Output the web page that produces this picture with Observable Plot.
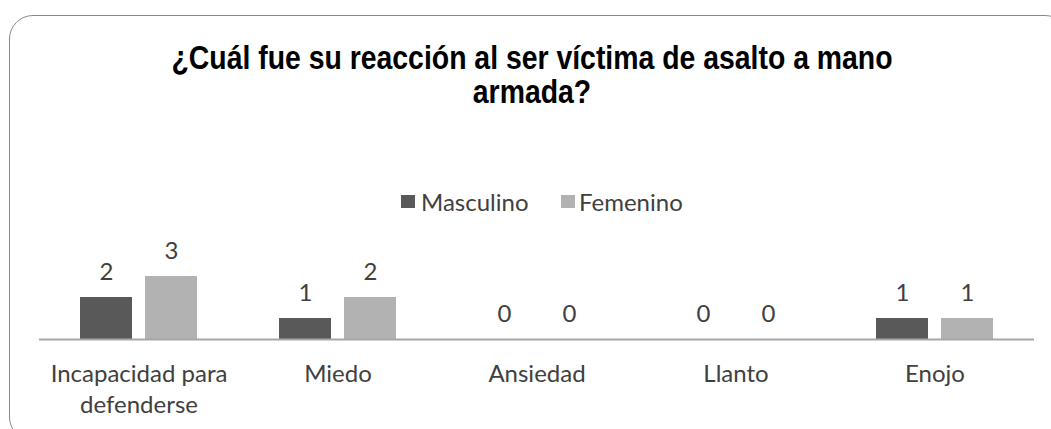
<!DOCTYPE html>
<html>
<head>
<meta charset="utf-8">
<script src="https://cdn.jsdelivr.net/npm/d3@7"></script>
<script src="https://cdn.jsdelivr.net/npm/@observablehq/plot@0.6"></script>
<style>
  html, body { margin: 0; padding: 0; background: #fff; }
  body { width: 1051px; height: 429px; overflow: hidden; position: relative; }
  #frame { position: absolute; left: 9px; top: 15px; width: 1060px; height: 426px;
           border: 1.5px solid #8a8a8a; border-radius: 24px; box-sizing: border-box; }
  #title { position: absolute; left: 0; top: 40.5px; width: 1064px; text-align: center;
           font-family: "Liberation Sans", Arial, sans-serif; font-weight: bold; font-size: 28.4px;
           line-height: 29px; color: #000; transform: scaleY(1.17); transform-origin: 0 0; }
  #legend { position: absolute; top: 187px; left: 401px; height: 26px;
            font-family: Lato, sans-serif; font-size: 24px; color: #404040; }
  .li { position: absolute; top: 0; white-space: nowrap; }
  .sw { position: absolute; width: 14px; height: 13px; top: 8px; }
  #chart { position: absolute; left: 0; top: 220px; }
</style>
</head>
<body>
<div id="frame"></div>
<div id="title"></div>
<div id="legend"></div>
<div id="chart"></div>
<script>
const titleLines = ["¿Cuál fue su reacción al ser víctima de asalto a mano", "armada?"];
const categories = ["Incapacidad para defenderse", "Miedo", "Ansiedad", "Llanto", "Enojo"];
const tickLabels = ["Incapacidad para\ndefenderse", "Miedo", "Ansiedad", "Llanto", "Enojo"];
const series = ["Masculino", "Femenino"];
const masculino = [2, 1, 0, 0, 1];
const femenino = [3, 2, 0, 0, 1];
const colors = ["#595959", "#b2b2b2"];

document.getElementById("title").innerHTML = titleLines.join("<br>");

const legend = document.getElementById("legend");
const legendOffsets = [0, 160];
series.forEach((s, i) => {
  const sw = document.createElement("div");
  sw.className = "sw";
  sw.style.left = legendOffsets[i] + "px";
  sw.style.background = colors[i];
  legend.appendChild(sw);
  const t = document.createElement("div");
  t.className = "li";
  t.style.left = (legendOffsets[i] + 20 - (i ? 2 : 0)) + "px";
  t.textContent = s;
  legend.appendChild(t);
});

const data = categories.flatMap((c, i) => [
  {category: c, sex: series[0], value: masculino[i]},
  {category: c, sex: series[1], value: femenino[i]}
]);

const chart = Plot.plot({
  width: 1051,
  height: 209,
  marginLeft: 37,
  marginRight: 16,
  marginTop: 14,
  marginBottom: 90,
  style: {fontFamily: "Lato, sans-serif", background: "transparent", overflow: "visible"},
  fx: {domain: categories, padding: 0, axis: null},
  x: {domain: series, paddingInner: 0.197, paddingOuter: 0.61, axis: null},
  y: {domain: [0, 5], axis: null},
  color: {domain: series, range: colors},
  marks: [
    Plot.barY(data, {fx: "category", x: "sex", y: "value", fill: "sex"}),
    Plot.ruleY([0], {stroke: "#a6a6a6", strokeWidth: 2}),
    Plot.text(data, {fx: "category", x: "sex", y: "value", text: d => String(d.value),
      lineAnchor: "bottom", dy: -18, fontSize: 24, fill: "#404040"}),
    Plot.text(categories, {fx: d => d, text: (d, i) => tickLabels[i], frameAnchor: "bottom",
      lineAnchor: "top", dy: 20, fontSize: 24, lineHeight: 1.3, fill: "#404040"})
  ]
});
document.getElementById("chart").appendChild(chart);
</script>
</body>
</html>
